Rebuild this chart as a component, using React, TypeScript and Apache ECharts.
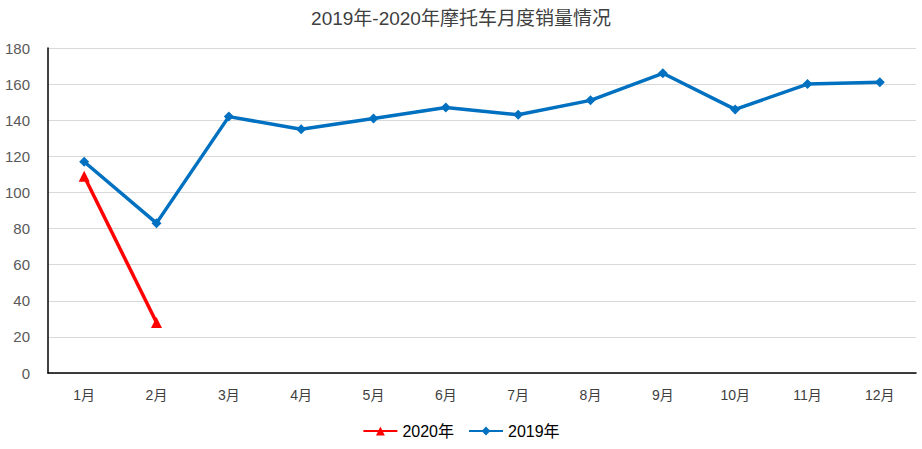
import React, { useEffect, useRef } from "react";
import * as echarts from "echarts";

const months = ["1月", "2月", "3月", "4月", "5月", "6月", "7月", "8月", "9月", "10月", "11月", "12月"];
const sales2020 = [109, 28];
const sales2019 = [117, 83, 142, 135, 141, 147, 143, 151, 166, 146, 160, 161];
const titleText = "2019年-2020年摩托车月度销量情况";

const FONT = "'Liberation Sans', 'Noto Sans CJK SC', sans-serif";

export default function App() {
  const ref = useRef<HTMLDivElement>(null);
  useEffect(() => {
    document.body.style.margin = "0";
    const chart = echarts.init(ref.current!, null, { renderer: "svg" });
    chart.setOption({
      animation: false,
      backgroundColor: "#ffffff",
      textStyle: { fontFamily: FONT },
      title: {
        text: titleText,
        left: "center",
        top: 4,
        textStyle: { fontFamily: FONT, fontSize: 19, fontWeight: "normal", color: "#404040" },
      },
      legend: {
        bottom: 5,
        left: "center",
        itemWidth: 34,
        itemHeight: 11,
        itemGap: 14,
        textStyle: { fontFamily: FONT, fontSize: 16, color: "#000000" },
        data: ["2020年", "2019年"],
      },
      grid: { left: 48, right: 6, top: 48, bottom: 76 },
      xAxis: {
        type: "category",
        data: months,
        boundaryGap: true,
        axisLine: { lineStyle: { color: "#000000", width: 1.5 } },
        axisTick: { show: false },
        axisLabel: { color: "#404040", fontSize: 14, margin: 15, fontFamily: FONT },
      },
      yAxis: {
        type: "value",
        min: 0,
        max: 180,
        interval: 20,
        axisLine: { show: true, lineStyle: { color: "#000000", width: 1.5 } },
        axisTick: { show: false },
        axisLabel: { color: "#595959", fontSize: 15, margin: 18, fontFamily: FONT },
        splitLine: { lineStyle: { color: "#d9d9d9", width: 1 } },
      },
      series: [
        {
          name: "2020年",
          type: "line",
          data: sales2020,
          symbol: "triangle",
          symbolSize: 11,
          itemStyle: { color: "#ff0000" },
          lineStyle: { color: "#ff0000", width: 3.5 },
          z: 3,
        },
        {
          name: "2019年",
          type: "line",
          data: sales2019,
          symbol: "diamond",
          symbolSize: 10,
          itemStyle: { color: "#0070c0" },
          lineStyle: { color: "#0070c0", width: 3.5 },
          z: 2,
        },
      ],
    });
    return () => chart.dispose();
  }, []);
  return <div ref={ref} style={{ width: 922, height: 449, position: "absolute", left: 0, top: 0 }} />;
}
